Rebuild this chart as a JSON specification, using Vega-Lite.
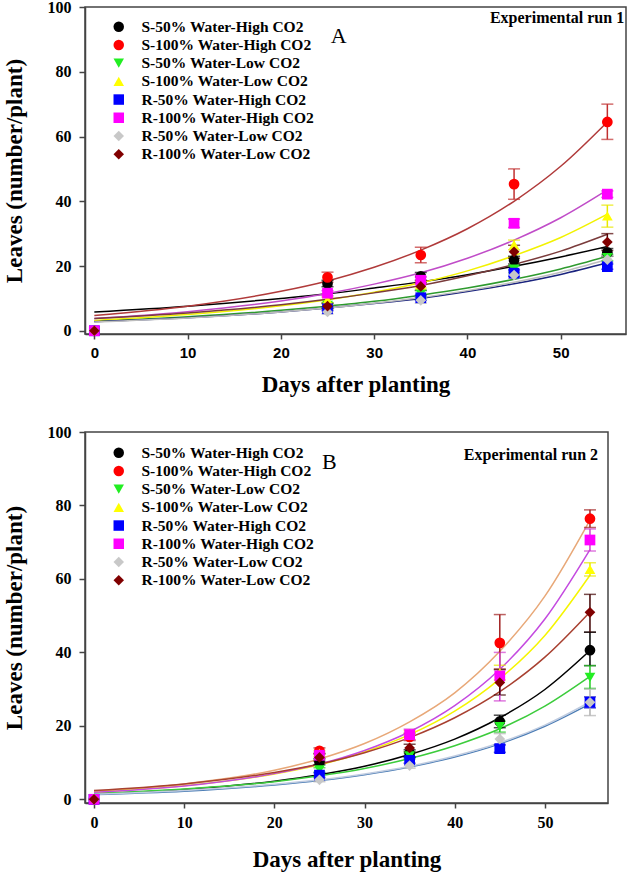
{
  "$schema": "https://vega.github.io/schema/vega-lite/v6.json",
  "padding": {"left": 2, "top": -2, "right": 0, "bottom": 0},
  "background": "white",
  "spacing": 26,
  "config": {
    "view": {"stroke": "#444444", "strokeWidth": 1.5},
    "axis": {"grid": false, "domainColor": "#444444", "domainWidth": 1.5, "tickColor": "#444444", "tickWidth": 1.5, "labelColor": "black", "titleColor": "black", "labelFont": "Liberation Serif", "labelFontWeight": "bold", "labelFontSize": 16, "titleFont": "Liberation Serif", "titleFontWeight": "bold", "titleFontSize": 23},
    "legend": {"labelFont": "Liberation Serif", "labelFontWeight": "bold", "labelFontSize": 15.5, "labelColor": "black", "symbolSize": 110, "symbolStrokeWidth": 0, "rowPadding": 1.2, "labelOffset": 15, "padding": 0, "labelLimit": 400}
  },
  "datasets": {
    "pts": [
      {"panel": "A", "series": "S-50% Water-High CO2", "day": 0, "leaves": 0},
      {"panel": "A", "series": "S-50% Water-High CO2", "day": 25, "leaves": 14.6, "lo": 13.6, "hi": 15.6},
      {"panel": "A", "series": "S-50% Water-High CO2", "day": 35, "leaves": 16.8, "lo": 15.6, "hi": 18.0},
      {"panel": "A", "series": "S-50% Water-High CO2", "day": 45, "leaves": 21.8, "lo": 20.6, "hi": 23.0},
      {"panel": "A", "series": "S-50% Water-High CO2", "day": 55, "leaves": 24.2, "lo": 23.0, "hi": 25.4},
      {"panel": "A", "series": "S-100% Water-High CO2", "day": 0, "leaves": 0},
      {"panel": "A", "series": "S-100% Water-High CO2", "day": 25, "leaves": 16.5, "lo": 15.0, "hi": 18.1},
      {"panel": "A", "series": "S-100% Water-High CO2", "day": 35, "leaves": 23.4, "lo": 21.0, "hi": 25.8},
      {"panel": "A", "series": "S-100% Water-High CO2", "day": 45, "leaves": 45.3, "lo": 40.6, "hi": 50.0},
      {"panel": "A", "series": "S-100% Water-High CO2", "day": 55, "leaves": 64.5, "lo": 59.1, "hi": 70.0},
      {"panel": "A", "series": "S-50% Water-Low CO2", "day": 0, "leaves": 0},
      {"panel": "A", "series": "S-50% Water-Low CO2", "day": 25, "leaves": 7.8, "lo": 7.0, "hi": 8.6},
      {"panel": "A", "series": "S-50% Water-Low CO2", "day": 35, "leaves": 11.4, "lo": 10.4, "hi": 12.4},
      {"panel": "A", "series": "S-50% Water-Low CO2", "day": 45, "leaves": 19.0, "lo": 18.0, "hi": 20.0},
      {"panel": "A", "series": "S-50% Water-Low CO2", "day": 55, "leaves": 22.6, "lo": 21.6, "hi": 23.6},
      {"panel": "A", "series": "S-100% Water-Low CO2", "day": 0, "leaves": 0},
      {"panel": "A", "series": "S-100% Water-Low CO2", "day": 25, "leaves": 9.5, "lo": 8.7, "hi": 10.3},
      {"panel": "A", "series": "S-100% Water-Low CO2", "day": 35, "leaves": 14.2, "lo": 13.2, "hi": 15.2},
      {"panel": "A", "series": "S-100% Water-Low CO2", "day": 45, "leaves": 26.5, "lo": 25.0, "hi": 28.0},
      {"panel": "A", "series": "S-100% Water-Low CO2", "day": 55, "leaves": 35.5, "lo": 32.0, "hi": 38.8},
      {"panel": "A", "series": "R-50% Water-High CO2", "day": 0, "leaves": 0},
      {"panel": "A", "series": "R-50% Water-High CO2", "day": 25, "leaves": 6.8, "lo": 6.2, "hi": 7.4},
      {"panel": "A", "series": "R-50% Water-High CO2", "day": 35, "leaves": 10.2, "lo": 9.4, "hi": 11.0},
      {"panel": "A", "series": "R-50% Water-High CO2", "day": 45, "leaves": 17.8, "lo": 16.8, "hi": 18.8},
      {"panel": "A", "series": "R-50% Water-High CO2", "day": 55, "leaves": 19.8, "lo": 19.0, "hi": 20.6},
      {"panel": "A", "series": "R-100% Water-High CO2", "day": 0, "leaves": 0},
      {"panel": "A", "series": "R-100% Water-High CO2", "day": 25, "leaves": 11.6, "lo": 10.8, "hi": 12.4},
      {"panel": "A", "series": "R-100% Water-High CO2", "day": 35, "leaves": 15.6, "lo": 14.6, "hi": 16.6},
      {"panel": "A", "series": "R-100% Water-High CO2", "day": 45, "leaves": 33.2, "lo": 31.9, "hi": 34.5},
      {"panel": "A", "series": "R-100% Water-High CO2", "day": 55, "leaves": 42.2, "lo": 41.2, "hi": 43.2},
      {"panel": "A", "series": "R-50% Water-Low CO2", "day": 0, "leaves": 0},
      {"panel": "A", "series": "R-50% Water-Low CO2", "day": 25, "leaves": 5.8, "lo": 5.2, "hi": 6.4},
      {"panel": "A", "series": "R-50% Water-Low CO2", "day": 35, "leaves": 9.4, "lo": 8.5, "hi": 10.3},
      {"panel": "A", "series": "R-50% Water-Low CO2", "day": 45, "leaves": 17.2, "lo": 16.2, "hi": 18.2},
      {"panel": "A", "series": "R-50% Water-Low CO2", "day": 55, "leaves": 22.0, "lo": 21.0, "hi": 23.0},
      {"panel": "A", "series": "R-100% Water-Low CO2", "day": 0, "leaves": 0},
      {"panel": "A", "series": "R-100% Water-Low CO2", "day": 25, "leaves": 7.6, "lo": 6.8, "hi": 8.4},
      {"panel": "A", "series": "R-100% Water-Low CO2", "day": 35, "leaves": 13.7, "lo": 12.5, "hi": 14.9},
      {"panel": "A", "series": "R-100% Water-Low CO2", "day": 45, "leaves": 24.4, "lo": 22.4, "hi": 26.4},
      {"panel": "A", "series": "R-100% Water-Low CO2", "day": 55, "leaves": 27.4, "lo": 24.8, "hi": 30.0},
      {"panel": "B", "series": "S-50% Water-High CO2", "day": 0, "leaves": 0},
      {"panel": "B", "series": "S-50% Water-High CO2", "day": 25, "leaves": 10.2, "lo": 9.4, "hi": 11.0},
      {"panel": "B", "series": "S-50% Water-High CO2", "day": 35, "leaves": 12.5, "lo": 11.5, "hi": 13.5},
      {"panel": "B", "series": "S-50% Water-High CO2", "day": 45, "leaves": 21.2, "lo": 19.5, "hi": 22.9},
      {"panel": "B", "series": "S-50% Water-High CO2", "day": 55, "leaves": 40.6, "lo": 36.4, "hi": 45.5},
      {"panel": "B", "series": "S-100% Water-High CO2", "day": 0, "leaves": 0},
      {"panel": "B", "series": "S-100% Water-High CO2", "day": 25, "leaves": 13.2, "lo": 12.4, "hi": 14.0},
      {"panel": "B", "series": "S-100% Water-High CO2", "day": 35, "leaves": 17.0, "lo": 16.0, "hi": 18.0},
      {"panel": "B", "series": "S-100% Water-High CO2", "day": 45, "leaves": 42.6, "lo": 35.5, "hi": 50.3},
      {"panel": "B", "series": "S-100% Water-High CO2", "day": 55, "leaves": 76.4, "lo": 74.0, "hi": 78.8},
      {"panel": "B", "series": "S-50% Water-Low CO2", "day": 0, "leaves": 0},
      {"panel": "B", "series": "S-50% Water-Low CO2", "day": 25, "leaves": 8.0, "lo": 7.4, "hi": 8.6},
      {"panel": "B", "series": "S-50% Water-Low CO2", "day": 35, "leaves": 11.8, "lo": 11.0, "hi": 12.6},
      {"panel": "B", "series": "S-50% Water-Low CO2", "day": 45, "leaves": 19.8, "lo": 18.3, "hi": 21.3},
      {"panel": "B", "series": "S-50% Water-Low CO2", "day": 55, "leaves": 33.2, "lo": 30.2, "hi": 36.4},
      {"panel": "B", "series": "S-100% Water-Low CO2", "day": 0, "leaves": 0},
      {"panel": "B", "series": "S-100% Water-Low CO2", "day": 25, "leaves": 12.5, "lo": 11.7, "hi": 13.3},
      {"panel": "B", "series": "S-100% Water-Low CO2", "day": 35, "leaves": 17.5, "lo": 16.3, "hi": 18.7},
      {"panel": "B", "series": "S-100% Water-Low CO2", "day": 45, "leaves": 34.5, "lo": 32.5, "hi": 36.5},
      {"panel": "B", "series": "S-100% Water-Low CO2", "day": 55, "leaves": 62.6, "lo": 60.8, "hi": 64.4},
      {"panel": "B", "series": "R-50% Water-High CO2", "day": 0, "leaves": 0},
      {"panel": "B", "series": "R-50% Water-High CO2", "day": 25, "leaves": 6.6, "lo": 6.0, "hi": 7.2},
      {"panel": "B", "series": "R-50% Water-High CO2", "day": 35, "leaves": 10.6, "lo": 9.8, "hi": 11.4},
      {"panel": "B", "series": "R-50% Water-High CO2", "day": 45, "leaves": 13.8, "lo": 12.8, "hi": 14.8},
      {"panel": "B", "series": "R-50% Water-High CO2", "day": 55, "leaves": 26.4, "lo": 24.9, "hi": 27.9},
      {"panel": "B", "series": "R-100% Water-High CO2", "day": 0, "leaves": 0},
      {"panel": "B", "series": "R-100% Water-High CO2", "day": 25, "leaves": 12.0, "lo": 11.2, "hi": 12.8},
      {"panel": "B", "series": "R-100% Water-High CO2", "day": 35, "leaves": 17.6, "lo": 16.2, "hi": 19.1},
      {"panel": "B", "series": "R-100% Water-High CO2", "day": 45, "leaves": 33.6, "lo": 26.8, "hi": 40.0},
      {"panel": "B", "series": "R-100% Water-High CO2", "day": 55, "leaves": 70.6, "lo": 67.6, "hi": 73.6},
      {"panel": "B", "series": "R-50% Water-Low CO2", "day": 0, "leaves": 0},
      {"panel": "B", "series": "R-50% Water-Low CO2", "day": 25, "leaves": 5.3, "lo": 4.8, "hi": 5.8},
      {"panel": "B", "series": "R-50% Water-Low CO2", "day": 35, "leaves": 9.2, "lo": 8.5, "hi": 9.9},
      {"panel": "B", "series": "R-50% Water-Low CO2", "day": 45, "leaves": 16.4, "lo": 14.9, "hi": 17.9},
      {"panel": "B", "series": "R-50% Water-Low CO2", "day": 55, "leaves": 26.4, "lo": 22.8, "hi": 30.0},
      {"panel": "B", "series": "R-100% Water-Low CO2", "day": 0, "leaves": 0},
      {"panel": "B", "series": "R-100% Water-Low CO2", "day": 25, "leaves": 11.4, "lo": 10.4, "hi": 12.4},
      {"panel": "B", "series": "R-100% Water-Low CO2", "day": 35, "leaves": 14.0, "lo": 13.0, "hi": 15.0},
      {"panel": "B", "series": "R-100% Water-Low CO2", "day": 45, "leaves": 31.8, "lo": 28.4, "hi": 35.3},
      {"panel": "B", "series": "R-100% Water-Low CO2", "day": 55, "leaves": 50.9, "lo": 45.5, "hi": 55.8}
    ],
    "fit": [
      {"panel": "A", "series": "S-50% Water-High CO2", "day": 0, "fit": 5.8},
      {"panel": "A", "series": "S-50% Water-High CO2", "day": 10, "fit": 7.6},
      {"panel": "A", "series": "S-50% Water-High CO2", "day": 20, "fit": 10.0},
      {"panel": "A", "series": "S-50% Water-High CO2", "day": 25, "fit": 11.4},
      {"panel": "A", "series": "S-50% Water-High CO2", "day": 30, "fit": 13.2},
      {"panel": "A", "series": "S-50% Water-High CO2", "day": 35, "fit": 15.1},
      {"panel": "A", "series": "S-50% Water-High CO2", "day": 40, "fit": 17.3},
      {"panel": "A", "series": "S-50% Water-High CO2", "day": 45, "fit": 19.9},
      {"panel": "A", "series": "S-50% Water-High CO2", "day": 50, "fit": 22.8},
      {"panel": "A", "series": "S-50% Water-High CO2", "day": 55, "fit": 26.0},
      {"panel": "A", "series": "S-100% Water-High CO2", "day": 0, "fit": 4.7},
      {"panel": "A", "series": "S-100% Water-High CO2", "day": 10, "fit": 7.6},
      {"panel": "A", "series": "S-100% Water-High CO2", "day": 20, "fit": 12.2},
      {"panel": "A", "series": "S-100% Water-High CO2", "day": 25, "fit": 15.4},
      {"panel": "A", "series": "S-100% Water-High CO2", "day": 30, "fit": 19.6},
      {"panel": "A", "series": "S-100% Water-High CO2", "day": 35, "fit": 24.9},
      {"panel": "A", "series": "S-100% Water-High CO2", "day": 40, "fit": 31.5},
      {"panel": "A", "series": "S-100% Water-High CO2", "day": 45, "fit": 40.0},
      {"panel": "A", "series": "S-100% Water-High CO2", "day": 50, "fit": 50.8},
      {"panel": "A", "series": "S-100% Water-High CO2", "day": 55, "fit": 64.5},
      {"panel": "A", "series": "S-50% Water-Low CO2", "day": 0, "fit": 3.0},
      {"panel": "A", "series": "S-50% Water-Low CO2", "day": 10, "fit": 4.35},
      {"panel": "A", "series": "S-50% Water-Low CO2", "day": 20, "fit": 6.3},
      {"panel": "A", "series": "S-50% Water-Low CO2", "day": 25, "fit": 7.6},
      {"panel": "A", "series": "S-50% Water-Low CO2", "day": 30, "fit": 9.1},
      {"panel": "A", "series": "S-50% Water-Low CO2", "day": 35, "fit": 11.0},
      {"panel": "A", "series": "S-50% Water-Low CO2", "day": 40, "fit": 13.2},
      {"panel": "A", "series": "S-50% Water-Low CO2", "day": 45, "fit": 15.9},
      {"panel": "A", "series": "S-50% Water-Low CO2", "day": 50, "fit": 19.1},
      {"panel": "A", "series": "S-50% Water-Low CO2", "day": 55, "fit": 23.0},
      {"panel": "A", "series": "S-100% Water-Low CO2", "day": 0, "fit": 3.2},
      {"panel": "A", "series": "S-100% Water-Low CO2", "day": 10, "fit": 5.0},
      {"panel": "A", "series": "S-100% Water-Low CO2", "day": 20, "fit": 7.7},
      {"panel": "A", "series": "S-100% Water-Low CO2", "day": 25, "fit": 9.6},
      {"panel": "A", "series": "S-100% Water-Low CO2", "day": 30, "fit": 11.9},
      {"panel": "A", "series": "S-100% Water-Low CO2", "day": 35, "fit": 14.8},
      {"panel": "A", "series": "S-100% Water-Low CO2", "day": 40, "fit": 18.5},
      {"panel": "A", "series": "S-100% Water-Low CO2", "day": 45, "fit": 23.2},
      {"panel": "A", "series": "S-100% Water-Low CO2", "day": 50, "fit": 28.8},
      {"panel": "A", "series": "S-100% Water-Low CO2", "day": 55, "fit": 36.0},
      {"panel": "A", "series": "R-50% Water-High CO2", "day": 0, "fit": 2.8},
      {"panel": "A", "series": "R-50% Water-High CO2", "day": 10, "fit": 4.0},
      {"panel": "A", "series": "R-50% Water-High CO2", "day": 20, "fit": 5.8},
      {"panel": "A", "series": "R-50% Water-High CO2", "day": 25, "fit": 7.0},
      {"panel": "A", "series": "R-50% Water-High CO2", "day": 30, "fit": 8.4},
      {"panel": "A", "series": "R-50% Water-High CO2", "day": 35, "fit": 10.0},
      {"panel": "A", "series": "R-50% Water-High CO2", "day": 40, "fit": 12.1},
      {"panel": "A", "series": "R-50% Water-High CO2", "day": 45, "fit": 14.5},
      {"panel": "A", "series": "R-50% Water-High CO2", "day": 50, "fit": 17.4},
      {"panel": "A", "series": "R-50% Water-High CO2", "day": 55, "fit": 21.0},
      {"panel": "A", "series": "R-100% Water-High CO2", "day": 0, "fit": 3.8},
      {"panel": "A", "series": "R-100% Water-High CO2", "day": 10, "fit": 5.9},
      {"panel": "A", "series": "R-100% Water-High CO2", "day": 20, "fit": 9.2},
      {"panel": "A", "series": "R-100% Water-High CO2", "day": 25, "fit": 11.5},
      {"panel": "A", "series": "R-100% Water-High CO2", "day": 30, "fit": 14.4},
      {"panel": "A", "series": "R-100% Water-High CO2", "day": 35, "fit": 17.9},
      {"panel": "A", "series": "R-100% Water-High CO2", "day": 40, "fit": 22.4},
      {"panel": "A", "series": "R-100% Water-High CO2", "day": 45, "fit": 28.0},
      {"panel": "A", "series": "R-100% Water-High CO2", "day": 50, "fit": 34.9},
      {"panel": "A", "series": "R-100% Water-High CO2", "day": 55, "fit": 43.5},
      {"panel": "A", "series": "R-50% Water-Low CO2", "day": 0, "fit": 2.7},
      {"panel": "A", "series": "R-50% Water-Low CO2", "day": 10, "fit": 3.95},
      {"panel": "A", "series": "R-50% Water-Low CO2", "day": 20, "fit": 5.8},
      {"panel": "A", "series": "R-50% Water-Low CO2", "day": 25, "fit": 7.0},
      {"panel": "A", "series": "R-50% Water-Low CO2", "day": 30, "fit": 8.5},
      {"panel": "A", "series": "R-50% Water-Low CO2", "day": 35, "fit": 10.3},
      {"panel": "A", "series": "R-50% Water-Low CO2", "day": 40, "fit": 12.4},
      {"panel": "A", "series": "R-50% Water-Low CO2", "day": 45, "fit": 15.0},
      {"panel": "A", "series": "R-50% Water-Low CO2", "day": 50, "fit": 18.1},
      {"panel": "A", "series": "R-50% Water-Low CO2", "day": 55, "fit": 22.0},
      {"panel": "A", "series": "R-100% Water-Low CO2", "day": 0, "fit": 3.8},
      {"panel": "A", "series": "R-100% Water-Low CO2", "day": 10, "fit": 5.5},
      {"panel": "A", "series": "R-100% Water-Low CO2", "day": 20, "fit": 8.0},
      {"panel": "A", "series": "R-100% Water-Low CO2", "day": 25, "fit": 9.7},
      {"panel": "A", "series": "R-100% Water-Low CO2", "day": 30, "fit": 11.7},
      {"panel": "A", "series": "R-100% Water-Low CO2", "day": 35, "fit": 14.0},
      {"panel": "A", "series": "R-100% Water-Low CO2", "day": 40, "fit": 17.0},
      {"panel": "A", "series": "R-100% Water-Low CO2", "day": 45, "fit": 20.5},
      {"panel": "A", "series": "R-100% Water-Low CO2", "day": 50, "fit": 24.6},
      {"panel": "A", "series": "R-100% Water-Low CO2", "day": 55, "fit": 29.8},
      {"panel": "B", "series": "S-50% Water-High CO2", "day": 0, "fit": 1.5},
      {"panel": "B", "series": "S-50% Water-High CO2", "day": 10, "fit": 2.7},
      {"panel": "B", "series": "S-50% Water-High CO2", "day": 20, "fit": 4.95},
      {"panel": "B", "series": "S-50% Water-High CO2", "day": 25, "fit": 6.7},
      {"panel": "B", "series": "S-50% Water-High CO2", "day": 30, "fit": 9.0},
      {"panel": "B", "series": "S-50% Water-High CO2", "day": 35, "fit": 12.2},
      {"panel": "B", "series": "S-50% Water-High CO2", "day": 40, "fit": 16.4},
      {"panel": "B", "series": "S-50% Water-High CO2", "day": 45, "fit": 22.2},
      {"panel": "B", "series": "S-50% Water-High CO2", "day": 50, "fit": 29.9},
      {"panel": "B", "series": "S-50% Water-High CO2", "day": 55, "fit": 40.5},
      {"panel": "B", "series": "S-100% Water-High CO2", "day": 0, "fit": 2.2},
      {"panel": "B", "series": "S-100% Water-High CO2", "day": 10, "fit": 4.2},
      {"panel": "B", "series": "S-100% Water-High CO2", "day": 20, "fit": 7.9},
      {"panel": "B", "series": "S-100% Water-High CO2", "day": 25, "fit": 11.0},
      {"panel": "B", "series": "S-100% Water-High CO2", "day": 30, "fit": 15.2},
      {"panel": "B", "series": "S-100% Water-High CO2", "day": 35, "fit": 21.1},
      {"panel": "B", "series": "S-100% Water-High CO2", "day": 40, "fit": 29.0},
      {"panel": "B", "series": "S-100% Water-High CO2", "day": 45, "fit": 40.3},
      {"panel": "B", "series": "S-100% Water-High CO2", "day": 50, "fit": 55.3},
      {"panel": "B", "series": "S-100% Water-High CO2", "day": 55, "fit": 76.0},
      {"panel": "B", "series": "S-50% Water-Low CO2", "day": 0, "fit": 1.6},
      {"panel": "B", "series": "S-50% Water-Low CO2", "day": 10, "fit": 2.8},
      {"panel": "B", "series": "S-50% Water-Low CO2", "day": 20, "fit": 4.8},
      {"panel": "B", "series": "S-50% Water-Low CO2", "day": 25, "fit": 6.4},
      {"panel": "B", "series": "S-50% Water-Low CO2", "day": 30, "fit": 8.4},
      {"panel": "B", "series": "S-50% Water-Low CO2", "day": 35, "fit": 11.1},
      {"panel": "B", "series": "S-50% Water-Low CO2", "day": 40, "fit": 14.6},
      {"panel": "B", "series": "S-50% Water-Low CO2", "day": 45, "fit": 19.2},
      {"panel": "B", "series": "S-50% Water-Low CO2", "day": 50, "fit": 25.4},
      {"panel": "B", "series": "S-50% Water-Low CO2", "day": 55, "fit": 33.5},
      {"panel": "B", "series": "S-100% Water-Low CO2", "day": 0, "fit": 2.0},
      {"panel": "B", "series": "S-100% Water-Low CO2", "day": 10, "fit": 3.7},
      {"panel": "B", "series": "S-100% Water-Low CO2", "day": 20, "fit": 6.9},
      {"panel": "B", "series": "S-100% Water-Low CO2", "day": 25, "fit": 9.4},
      {"panel": "B", "series": "S-100% Water-Low CO2", "day": 30, "fit": 12.9},
      {"panel": "B", "series": "S-100% Water-Low CO2", "day": 35, "fit": 17.6},
      {"panel": "B", "series": "S-100% Water-Low CO2", "day": 40, "fit": 24.0},
      {"panel": "B", "series": "S-100% Water-Low CO2", "day": 45, "fit": 32.8},
      {"panel": "B", "series": "S-100% Water-Low CO2", "day": 50, "fit": 44.6},
      {"panel": "B", "series": "S-100% Water-Low CO2", "day": 55, "fit": 61.0},
      {"panel": "B", "series": "R-50% Water-High CO2", "day": 0, "fit": 1.3},
      {"panel": "B", "series": "R-50% Water-High CO2", "day": 10, "fit": 2.2},
      {"panel": "B", "series": "R-50% Water-High CO2", "day": 20, "fit": 3.9},
      {"panel": "B", "series": "R-50% Water-High CO2", "day": 25, "fit": 5.1},
      {"panel": "B", "series": "R-50% Water-High CO2", "day": 30, "fit": 6.7},
      {"panel": "B", "series": "R-50% Water-High CO2", "day": 35, "fit": 8.8},
      {"panel": "B", "series": "R-50% Water-High CO2", "day": 40, "fit": 11.5},
      {"panel": "B", "series": "R-50% Water-High CO2", "day": 45, "fit": 15.1},
      {"panel": "B", "series": "R-50% Water-High CO2", "day": 50, "fit": 19.9},
      {"panel": "B", "series": "R-50% Water-High CO2", "day": 55, "fit": 26.0},
      {"panel": "B", "series": "R-100% Water-High CO2", "day": 0, "fit": 1.9},
      {"panel": "B", "series": "R-100% Water-High CO2", "day": 10, "fit": 3.6},
      {"panel": "B", "series": "R-100% Water-High CO2", "day": 20, "fit": 7.0},
      {"panel": "B", "series": "R-100% Water-High CO2", "day": 25, "fit": 9.6},
      {"panel": "B", "series": "R-100% Water-High CO2", "day": 30, "fit": 13.3},
      {"panel": "B", "series": "R-100% Water-High CO2", "day": 35, "fit": 18.4},
      {"panel": "B", "series": "R-100% Water-High CO2", "day": 40, "fit": 25.5},
      {"panel": "B", "series": "R-100% Water-High CO2", "day": 45, "fit": 35.4},
      {"panel": "B", "series": "R-100% Water-High CO2", "day": 50, "fit": 49.1},
      {"panel": "B", "series": "R-100% Water-High CO2", "day": 55, "fit": 68.0},
      {"panel": "B", "series": "R-50% Water-Low CO2", "day": 0, "fit": 1.4},
      {"panel": "B", "series": "R-50% Water-Low CO2", "day": 10, "fit": 2.4},
      {"panel": "B", "series": "R-50% Water-Low CO2", "day": 20, "fit": 4.1},
      {"panel": "B", "series": "R-50% Water-Low CO2", "day": 25, "fit": 5.3},
      {"panel": "B", "series": "R-50% Water-Low CO2", "day": 30, "fit": 6.9},
      {"panel": "B", "series": "R-50% Water-Low CO2", "day": 35, "fit": 9.0},
      {"panel": "B", "series": "R-50% Water-Low CO2", "day": 40, "fit": 11.8},
      {"panel": "B", "series": "R-50% Water-Low CO2", "day": 45, "fit": 15.4},
      {"panel": "B", "series": "R-50% Water-Low CO2", "day": 50, "fit": 20.2},
      {"panel": "B", "series": "R-50% Water-Low CO2", "day": 55, "fit": 26.5},
      {"panel": "B", "series": "R-100% Water-Low CO2", "day": 0, "fit": 2.4},
      {"panel": "B", "series": "R-100% Water-Low CO2", "day": 10, "fit": 4.2},
      {"panel": "B", "series": "R-100% Water-Low CO2", "day": 20, "fit": 7.3},
      {"panel": "B", "series": "R-100% Water-Low CO2", "day": 25, "fit": 9.6},
      {"panel": "B", "series": "R-100% Water-Low CO2", "day": 30, "fit": 12.7},
      {"panel": "B", "series": "R-100% Water-Low CO2", "day": 35, "fit": 16.8},
      {"panel": "B", "series": "R-100% Water-Low CO2", "day": 40, "fit": 22.2},
      {"panel": "B", "series": "R-100% Water-Low CO2", "day": 45, "fit": 29.3},
      {"panel": "B", "series": "R-100% Water-Low CO2", "day": 50, "fit": 38.7},
      {"panel": "B", "series": "R-100% Water-Low CO2", "day": 55, "fit": 51.0}
    ]
  },
  "resolve": {
    "scale": {"x": "independent", "y": "independent", "fill": "independent", "shape": "independent", "stroke": "independent", "color": "independent"},
    "legend": {"fill": "independent", "shape": "independent"}
  },
  "vconcat": [
    {
      "width": 541,
      "height": 327,
      "layer": [
        {
          "data": {"name": "fit"},
          "transform": [{"filter": "datum.panel === 'A'"}],
          "mark": {"type": "line", "interpolate": "monotone", "strokeWidth": 1.5},
          "encoding": {
            "x": {"field": "day", "type": "quantitative", "scale": {"domain": [-1, 57], "nice": false, "zero": false}, "axis": {"values": [0, 10, 20, 30, 40, 50], "title": "Days after planting", "labelFont": "Liberation Sans", "labelFontSize": 15, "tickSize": 5, "labelPadding": 6, "titlePadding": 13}},
            "y": {"field": "fit", "type": "quantitative", "scale": {"domain": [-1, 100], "nice": false, "zero": false}, "axis": {"values": [0, 20, 40, 60, 80, 100], "title": "Leaves (number/plant)", "tickSize": 6, "labelPadding": 8, "titlePadding": 21}},
            "stroke": {"field": "series", "type": "nominal", "scale": {"domain": ["R-100% Water-Low CO2", "S-50% Water-High CO2", "S-100% Water-High CO2", "S-50% Water-Low CO2", "S-100% Water-Low CO2", "R-50% Water-High CO2", "R-100% Water-High CO2", "R-50% Water-Low CO2"], "range": ["#7a3b3b", "#000000", "#b03a3a", "#2e9a2e", "#f2f200", "#1a237e", "#c04cc8", "#bdbdbd"]}, "legend": null}
          }
        },
        {
          "data": {"name": "pts"},
          "transform": [{"filter": "datum.panel === 'A' && datum.lo != null"}],
          "mark": {"type": "errorbar", "ticks": {"size": 12, "thickness": 1.5}, "rule": {"strokeWidth": 1.5}},
          "encoding": {
            "x": {"field": "day", "type": "quantitative"},
            "y": {"field": "lo", "type": "quantitative", "title": "Leaves (number/plant)"},
            "y2": {"field": "hi"},
            "color": {"field": "series", "type": "nominal", "scale": {"domain": ["R-50% Water-Low CO2", "R-100% Water-Low CO2", "S-50% Water-High CO2", "S-100% Water-High CO2", "S-50% Water-Low CO2", "S-100% Water-Low CO2", "R-50% Water-High CO2", "R-100% Water-High CO2"], "range": ["#b0b0b0", "#500000", "#000000", "#c03030", "#22cc22", "#e8e800", "#0000cc", "#d000d0"]}, "legend": null}
          }
        },
        {
          "data": {"name": "pts"},
          "transform": [{"filter": "datum.panel === 'A'"}],
          "mark": {"type": "point", "filled": true, "size": 115, "opacity": 1},
          "encoding": {
            "x": {"field": "day", "type": "quantitative"},
            "y": {"field": "leaves", "type": "quantitative", "title": "Leaves (number/plant)"},
            "fill": {"field": "series", "type": "nominal", "scale": {"domain": ["S-50% Water-High CO2", "S-100% Water-High CO2", "S-50% Water-Low CO2", "S-100% Water-Low CO2", "R-50% Water-High CO2", "R-100% Water-High CO2", "R-50% Water-Low CO2", "R-100% Water-Low CO2"], "range": ["#000000", "#ff0000", "#22ee22", "#ffff00", "#0000ff", "#ff00ff", "#c8c8c8", "#800000"]}, "legend": {"orient": "none", "legendX": 26, "legendY": 12, "title": null}},
            "shape": {"field": "series", "type": "nominal", "scale": {"domain": ["S-50% Water-High CO2", "S-100% Water-High CO2", "S-50% Water-Low CO2", "S-100% Water-Low CO2", "R-50% Water-High CO2", "R-100% Water-High CO2", "R-50% Water-Low CO2", "R-100% Water-Low CO2"], "range": ["circle", "circle", "triangle-down", "triangle-up", "square", "square", "diamond", "diamond"]}, "legend": {"orient": "none", "legendX": 26, "legendY": 12, "title": null}}
          }
        },
        {
          "data": {"values": [{}]},
          "mark": {"type": "text", "font": "Liberation Serif", "fontSize": 22, "align": "center", "baseline": "middle", "color": "black"},
          "encoding": {"x": {"datum": 26.2, "type": "quantitative"}, "y": {"datum": 91, "type": "quantitative"}, "text": {"value": "A"}}
        },
        {
          "data": {"values": [{}]},
          "mark": {"type": "text", "font": "Liberation Serif", "fontWeight": "bold", "fontSize": 16, "align": "right", "baseline": "middle", "color": "black"},
          "encoding": {"x": {"datum": 56.8, "type": "quantitative"}, "y": {"datum": 96.6, "type": "quantitative"}, "text": {"value": "Experimental run 1"}}
        }
      ]
    },
    {
      "width": 523,
      "height": 371,
      "layer": [
        {
          "data": {"name": "fit"},
          "transform": [{"filter": "datum.panel === 'B'"}],
          "mark": {"type": "line", "interpolate": "monotone", "strokeWidth": 1.5},
          "encoding": {
            "x": {"field": "day", "type": "quantitative", "scale": {"domain": [-1, 57], "nice": false, "zero": false}, "axis": {"values": [0, 10, 20, 30, 40, 50], "title": "Days after planting", "tickSize": 5, "labelPadding": 6, "titlePadding": 18}},
            "y": {"field": "fit", "type": "quantitative", "scale": {"domain": [-1, 100], "nice": false, "zero": false}, "axis": {"values": [0, 20, 40, 60, 80, 100], "title": "Leaves (number/plant)", "tickSize": 6, "labelPadding": 8, "titlePadding": 21}},
            "stroke": {"field": "series", "type": "nominal", "scale": {"domain": ["R-100% Water-Low CO2", "S-50% Water-High CO2", "S-100% Water-High CO2", "S-50% Water-Low CO2", "S-100% Water-Low CO2", "R-50% Water-High CO2", "R-100% Water-High CO2", "R-50% Water-Low CO2"], "range": ["#a84030", "#000000", "#e8a878", "#3ccc3c", "#f5f500", "#4a7cb5", "#c44ae0", "#c0cce0"]}, "legend": null}
          }
        },
        {
          "data": {"name": "pts"},
          "transform": [{"filter": "datum.panel === 'B' && datum.lo != null"}],
          "mark": {"type": "errorbar", "ticks": {"size": 12, "thickness": 1.5}, "rule": {"strokeWidth": 1.5}},
          "encoding": {
            "x": {"field": "day", "type": "quantitative"},
            "y": {"field": "lo", "type": "quantitative", "title": "Leaves (number/plant)"},
            "y2": {"field": "hi"},
            "color": {"field": "series", "type": "nominal", "scale": {"domain": ["R-50% Water-Low CO2", "R-100% Water-Low CO2", "S-50% Water-High CO2", "S-100% Water-High CO2", "S-50% Water-Low CO2", "S-100% Water-Low CO2", "R-50% Water-High CO2", "R-100% Water-High CO2"], "range": ["#b0b0b0", "#400000", "#000000", "#a02020", "#22cc22", "#e8e800", "#0000cc", "#d040d0"]}, "legend": null}
          }
        },
        {
          "data": {"name": "pts"},
          "transform": [{"filter": "datum.panel === 'B'"}],
          "mark": {"type": "point", "filled": true, "size": 115, "opacity": 1},
          "encoding": {
            "x": {"field": "day", "type": "quantitative"},
            "y": {"field": "leaves", "type": "quantitative", "title": "Leaves (number/plant)"},
            "fill": {"field": "series", "type": "nominal", "scale": {"domain": ["S-50% Water-High CO2", "S-100% Water-High CO2", "S-50% Water-Low CO2", "S-100% Water-Low CO2", "R-50% Water-High CO2", "R-100% Water-High CO2", "R-50% Water-Low CO2", "R-100% Water-Low CO2"], "range": ["#000000", "#ff0000", "#22ee22", "#ffff00", "#0000ff", "#ff00ff", "#c8c8c8", "#800000"]}, "legend": {"orient": "none", "legendX": 26, "legendY": 13, "title": null}},
            "shape": {"field": "series", "type": "nominal", "scale": {"domain": ["S-50% Water-High CO2", "S-100% Water-High CO2", "S-50% Water-Low CO2", "S-100% Water-Low CO2", "R-50% Water-High CO2", "R-100% Water-High CO2", "R-50% Water-Low CO2", "R-100% Water-Low CO2"], "range": ["circle", "circle", "triangle-down", "triangle-up", "square", "square", "diamond", "diamond"]}, "legend": {"orient": "none", "legendX": 26, "legendY": 13, "title": null}}
          }
        },
        {
          "data": {"values": [{}]},
          "mark": {"type": "text", "font": "Liberation Serif", "fontSize": 22, "align": "center", "baseline": "middle", "color": "black"},
          "encoding": {"x": {"datum": 26.1, "type": "quantitative"}, "y": {"datum": 91.9, "type": "quantitative"}, "text": {"value": "B"}}
        },
        {
          "data": {"values": [{}]},
          "mark": {"type": "text", "font": "Liberation Serif", "fontWeight": "bold", "fontSize": 16, "align": "right", "baseline": "middle", "color": "black"},
          "encoding": {"x": {"datum": 55.9, "type": "quantitative"}, "y": {"datum": 93.8, "type": "quantitative"}, "text": {"value": "Experimental run 2"}}
        }
      ]
    }
  ]
}
